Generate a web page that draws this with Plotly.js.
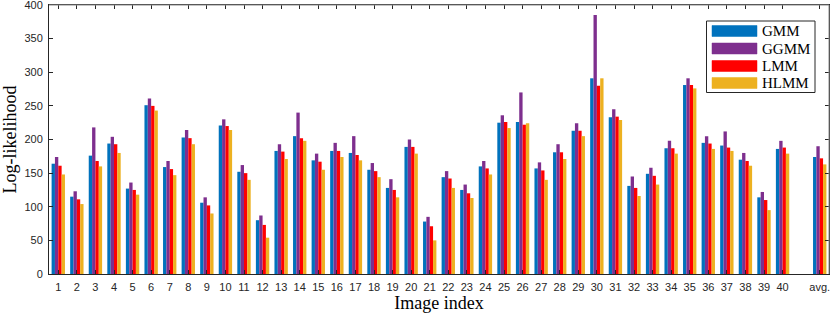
<!DOCTYPE html>
<html>
<head>
<meta charset="utf-8">
<script src="https://cdn.plot.ly/plotly-3.0.1.min.js"></script>
<style>html,body{margin:0;padding:0;background:#fff;}#chart{width:830px;height:314px;}</style>
</head>
<body>
<div id="chart"></div>
<script>
// Category positions and labels (avg. sits after a one-slot gap)
const xPositions = [1,2,3,4,5,6,7,8,9,10,11,12,13,14,15,16,17,18,19,20,21,22,23,24,25,26,27,28,29,30,31,32,33,34,35,36,37,38,39,40,42];
const xLabels = ["1","2","3","4","5","6","7","8","9","10","11","12","13","14","15","16","17","18","19","20","21","22","23","24","25","26","27","28","29","30","31","32","33","34","35","36","37","38","39","40","avg."];
const seriesNames = ["GMM","GGMM","LMM","HLMM"];
const seriesColors = ["#0072BD","#7E2F8E","#FF0000","#EDB120"];

const gmm  = [164,115,176,194,127,251,159,203,106,221,152,80,183,205,169,183,180,155,128,189,78,144,125,160,225,226,157,181,213,291,233,131,149,187,281,195,191,170,114,186,174];
const ggmm = [174,123,218,204,136,261,168,214,114,230,162,87,193,240,179,195,205,165,141,200,85,153,133,168,236,270,166,193,224,385,245,145,158,198,291,205,212,180,122,198,190];
const lmm  = [161,111,168,193,125,250,156,202,102,220,150,73,182,202,167,183,177,153,125,189,71,142,120,157,226,222,154,181,213,280,234,128,146,187,281,194,188,168,110,188,172];
const hlmm = [148,104,160,180,118,243,147,193,90,214,140,54,171,198,155,174,169,144,114,179,50,128,113,148,217,224,140,171,205,291,229,116,133,179,276,186,183,161,95,179,163];
const yTicks = [0,50,100,150,200,250,300,350,400];

const seriesValues = [gmm, ggmm, lmm, hlmm];
const traces = seriesValues.map((vals, i) => ({
  type: 'bar',
  x: xPositions,
  y: vals,
  name: seriesNames[i],
  marker: {color: seriesColors[i], line: {width: 0}},
  hoverinfo: 'skip'
}));

const W = 830, H = 314;
const mL = 49, mR = 1, mT = 5, mB = 40;
const pw = W - mL - mR, ph = H - mT - mB;
const px = v => (v - mL) / pw;
const py = v => (H - mB - v) / ph;

const shapes = [
  // top and right frame in lighter grey (MATLAB box)
  {type:'line', xref:'paper', yref:'paper', x0:0, x1:1, y0:1, y1:1, line:{color:'#8a8a8a', width:1}},
  {type:'line', xref:'paper', yref:'paper', x0:1, x1:1, y0:0, y1:1, line:{color:'#8a8a8a', width:1}},
  // legend box
  {type:'rect', xref:'paper', yref:'paper', x0:px(706.5), x1:px(815), y0:py(92.5), y1:py(21), fillcolor:'#ffffff', line:{color:'#262626', width:1}, layer:'above'}
];
const annotations = [];
const rowsY = [31, 48.5, 66, 83];
seriesNames.forEach((n, i) => {
  shapes.push({type:'rect', xref:'paper', yref:'paper', x0:px(712), x1:px(757), y0:py(rowsY[i]+5.5), y1:py(rowsY[i]-5.5), fillcolor:seriesColors[i], line:{color:seriesColors[i], width:0.5}, layer:'above'});
  annotations.push({xref:'paper', yref:'paper', x:px(760), y:py(rowsY[i]), xanchor:'left', yanchor:'middle', showarrow:false, text:n, font:{family:'Liberation Serif, Times New Roman, serif', size:15, color:'#000'}});
});

const layout = {
  width: W, height: H,
  margin: {l: mL, r: mR, t: mT, b: mB, pad: 0},
  paper_bgcolor: '#fff', plot_bgcolor: '#fff',
  barmode: 'group', bargap: 0.28, bargroupgap: 0,
  showlegend: false,
  font: {family: 'Liberation Sans, Arial, sans-serif', size: 11, color: '#262626'},
  xaxis: {
    range: [0.5, 42.5], tickmode: 'array', tickvals: xPositions, ticktext: xLabels,
    ticks: 'inside', ticklen: 4, tickcolor: '#262626', tickwidth: 1,
    showline: true, linecolor: '#262626', linewidth: 1, mirror: 'ticks',
    showgrid: false, zeroline: false, ticklabelstandoff: 3, ticklabeloverflow: 'allow',
    tickfont: {size: 11, color: '#262626'},
    title: {text: 'Image index', font: {family: 'Liberation Serif, Times New Roman, serif', size: 18, color: '#000'}, standoff: 2}
  },
  yaxis: {
    range: [0, 400], tickmode: 'array', tickvals: yTicks,
    ticks: 'inside', ticklen: 4, tickcolor: '#262626', tickwidth: 1,
    showline: true, linecolor: '#262626', linewidth: 1, mirror: 'ticks',
    showgrid: false, zeroline: false, ticklabelstandoff: 3, ticklabeloverflow: 'allow',
    tickfont: {size: 11, color: '#262626'},
    title: {text: 'Log-likelihood', font: {family: 'Liberation Serif, Times New Roman, serif', size: 18, color: '#000'}, standoff: 6}
  },
  shapes: shapes,
  annotations: annotations
};

Plotly.newPlot('chart', traces, layout, {displayModeBar: false, staticPlot: true});
</script>
</body>
</html>
